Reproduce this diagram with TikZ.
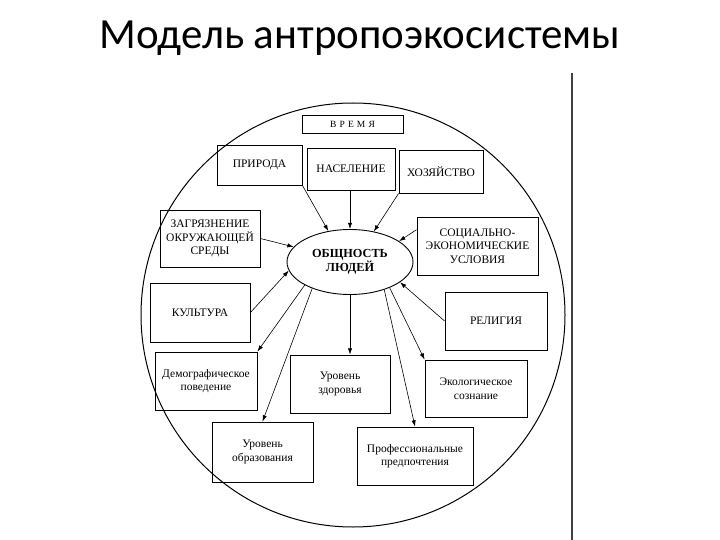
\documentclass[tikz,border=0pt]{standalone}
\usepackage{fontspec}
\setmainfont{Liberation Serif}
\newfontfamily\titlefont{Carlito}
\usetikzlibrary{arrows.meta,shapes.geometric}

\begin{document}
\begin{tikzpicture}[
    x=1pt, y=-1pt,
    box/.style={draw, rectangle, align=center, line width=0.9pt, inner sep=1pt,
                font=\fontsize{11.5}{13.5}\selectfont},
    core/.style={draw, ellipse, align=center, line width=0.9pt, inner sep=0pt,
                 minimum width=126pt, minimum height=65pt,
                 font=\fontsize{12.3}{14}\selectfont\bfseries},
    arrow/.style={-{Latex[length=2.2mm, width=1.5mm]}, line width=0.6pt}
]
\useasboundingbox (0,0) rectangle (720,540);
\fill[white] (0,0) rectangle (720,540);

\node[font=\titlefont\fontsize{43}{48}\selectfont] (title) at (360,38) {Модель антропоэкосистемы};

\draw[line width=1pt] (353,315) circle (212pt);
\draw[line width=1.4pt, black!75] (572,73) -- (572,540);

\node[box, minimum width=101pt, minimum height=18pt, font=\fontsize{9.5}{11}\selectfont] (vremya) at (352.5,124) {В\,\,Р\,\,Е\,\,М\,\,Я};
\node[box, minimum width=85pt, minimum height=40pt] (priroda) at (259.5,165) {ПРИРОДА};
\node[box, minimum width=88pt, minimum height=42pt] (naselenie) at (351,169) {НАСЕЛЕНИЕ};
\node[box, minimum width=84pt, minimum height=43pt] (hozyaistvo) at (441,171.5) {ХОЗЯЙСТВО};
\node[box, minimum width=100pt, minimum height=57pt] (zagr) at (210,238.5) {ЗАГРЯЗНЕНИЕ\\ОКРУЖАЮЩЕЙ\\СРЕДЫ};
\node[box, minimum width=121pt, minimum height=58pt] (socek) at (477.5,246) {СОЦИАЛЬНО-\\ЭКОНОМИЧЕСКИЕ\\УСЛОВИЯ};
\node[core] (obsh) at (350,262) {ОБЩНОСТЬ\\ЛЮДЕЙ};
\node[box, minimum width=100pt, minimum height=59pt] (kultura) at (200,312.5) {КУЛЬТУРА};
\node[box, minimum width=102pt, minimum height=58pt] (religiya) at (496,321) {РЕЛИГИЯ};
\node[box, minimum width=102pt, minimum height=58pt] (demogr) at (206,381) {Демографическое\\поведение};
\node[box, minimum width=100pt, minimum height=58pt] (zdorov) at (340,384) {Уровень\\здоровья};
\node[box, minimum width=102pt, minimum height=57pt] (ekolog) at (476,388.5) {Экологическое\\сознание};
\node[box, minimum width=101pt, minimum height=60pt] (obraz) at (262.5,452) {Уровень\\образования};
\node[box, minimum width=116pt, minimum height=58pt] (prof) at (415,456) {Профессиональные\\предпочтения};

\draw[arrow] (priroda.south east) -- (obsh.125);
\draw[arrow] (naselenie.south -| obsh.north) -- (obsh.north);
\draw[arrow] (hozyaistvo.south west) -- (obsh.52);
\draw[arrow] (zagr.east) -- (obsh.165);
\draw[arrow] (socek.165) -- (obsh.23);
\draw[arrow] (kultura.east) -- (obsh.188);
\draw[arrow] (religiya.west) -- (obsh.338);
\draw[arrow] (obsh.207) -- (demogr.north east);
\draw[arrow] (obsh.215) -- (obraz.north);
\draw[arrow] (obsh.south) -- (obsh.south |- zdorov.north);
\draw[arrow] (obsh.321) -- (prof.north);
\draw[arrow] (obsh.327) -- (ekolog.north west);
\end{tikzpicture}
\end{document}
